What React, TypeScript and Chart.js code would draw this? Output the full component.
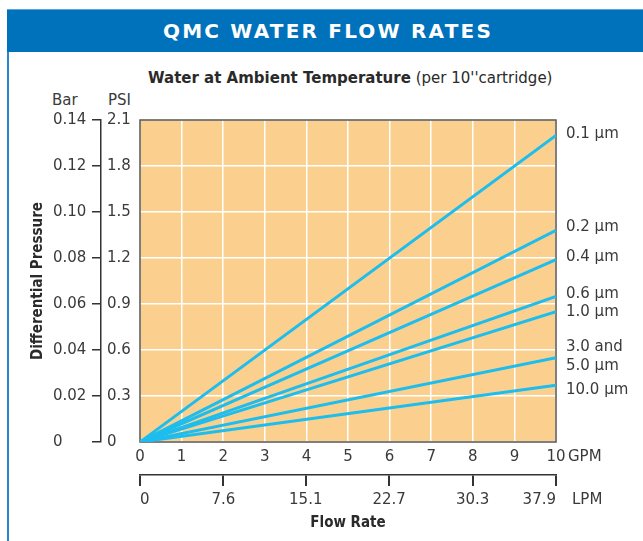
import React, { useEffect, useRef } from "react";
import { Chart, registerables } from "chart.js";

Chart.register(...registerables);

const FONT = "'DejaVu Sans', sans-serif";
const COND = "'DejaVu Sans Condensed', 'Liberation Sans Narrow', 'DejaVu Sans', sans-serif";
const TEXT = "#3a3a3a";
const LINE = "#1dbdee";
const PLOT_BG = "#fbd08f";
const BLUE = "#0071bb";

// Flow rate (GPM) at the two ends of every line
const flowGPM = [0, 10];

// Differential pressure (PSI) for each filter rating
const dp01 = [0, 2.0];
const dp02 = [0, 1.38];
const dp04 = [0, 1.19];
const dp06 = [0, 0.95];
const dp10 = [0, 0.85];
const dp35 = [0, 0.55];
const dp100 = [0, 0.37];

const seriesValues = [dp01, dp02, dp04, dp06, dp10, dp35, dp100];
const seriesLabels = [
  ["0.1 μm"],
  ["0.2 μm"],
  ["0.4 μm"],
  ["0.6 μm"],
  ["1.0 μm"],
  ["3.0 and", "5.0 μm"],
  ["10.0 μm"],
];
// small vertical nudges (px) of the end labels relative to their line ends
const labelNudge = [-1, -3, -2, -2, 0, -1, 5];

const gpmTicks = [0, 1, 2, 3, 4, 5, 6, 7, 8, 9, 10];
const lpmTicks = [0, 7.6, 15.1, 22.7, 30.3, 37.9];
const psiTicks = [0, 0.3, 0.6, 0.9, 1.2, 1.5, 1.8, 2.1];
const barTicks = [0, 0.02, 0.04, 0.06, 0.08, 0.1, 0.12, 0.14];

const decorPlugin = {
  id: "decor",
  beforeDraw(chart: any) {
    const { ctx, chartArea } = chart;
    const { left, top, right, bottom } = chartArea;
    ctx.save();
    ctx.fillStyle = PLOT_BG;
    ctx.fillRect(left, top, right - left, bottom - top);
    ctx.restore();
  },
  beforeDatasetsDraw(chart: any) {
    const { ctx, chartArea } = chart;
    const { left, top, right, bottom } = chartArea;
    ctx.save();
    ctx.strokeStyle = "#555555";
    ctx.lineWidth = 1.5;
    ctx.strokeRect(left, top, right - left, bottom - top);
    ctx.restore();
  },
  afterDatasetsDraw(chart: any) {
    const { ctx, chartArea } = chart;
    ctx.save();
    ctx.fillStyle = TEXT;
    ctx.font = `15px ${FONT}`;
    ctx.textAlign = "left";
    ctx.textBaseline = "middle";
    seriesLabels.forEach((lines, i) => {
      const meta = chart.getDatasetMeta(i);
      const pt = meta.data[meta.data.length - 1];
      const lh = 19;
      const y0 = pt.y + labelNudge[i] - ((lines.length - 1) * lh) / 2;
      lines.forEach((t, j) => ctx.fillText(t, chartArea.right + 10, y0 + j * lh));
    });
    // unit labels
    const xs = chart.scales.x;
    const x2 = chart.scales.x2;
    ctx.fillText("GPM", chartArea.right + 12, xs.top + 15);
    ctx.fillText("LPM", chartArea.right + 16, x2.top + 25);
    ctx.restore();
  },
};

export default function App() {
  const ref = useRef<HTMLCanvasElement | null>(null);

  useEffect(() => {
    if (!ref.current) return;
    const chart = new Chart(ref.current, {
      type: "line",
      data: {
        datasets: seriesValues.map((vals, i) => ({
          label: seriesLabels[i].join(" "),
          data: vals.map((v, k) => ({ x: flowGPM[k], y: v })),
          borderColor: LINE,
          backgroundColor: LINE,
          borderWidth: 3,
          pointRadius: 0,
          xAxisID: "x",
          yAxisID: "y",
          tension: 0,
        })),
      },
      options: {
        responsive: false,
        animation: false,
        events: [],
        layout: { padding: { left: 25, right: 87, top: 120, bottom: 5 } },
        plugins: {
          legend: { display: false },
          tooltip: { enabled: false },
          title: { display: false },
        },
        scales: {
          x: {
            type: "linear",
            position: "bottom",
            weight: 0,
            min: 0,
            max: 10,
            afterBuildTicks: (s: any) => {
              s.ticks = gpmTicks.map((v) => ({ value: v }));
            },
            afterFit: (s: any) => {
              s.height = 33;
            },
            ticks: {
              color: TEXT,
              font: { family: FONT, size: 15 },
              padding: 6,
              maxRotation: 0,
              autoSkip: false,
              callback: (v: any) => String(v),
            },
            grid: { color: "#ffffff", lineWidth: 1.5, drawTicks: false },
            border: { display: false },
          },
          x2: {
            type: "linear",
            position: "bottom",
            weight: 1,
            min: 0,
            max: 37.9,
            afterBuildTicks: (s: any) => {
              s.ticks = lpmTicks.map((v) => ({ value: v }));
            },
            afterFit: (s: any) => {
              s.height = 61;
            },
            ticks: {
              color: TEXT,
              font: { family: FONT, size: 15 },
              padding: 5,
              align: "inner",
              maxRotation: 0,
              autoSkip: false,
              callback: (v: any) => (v === 0 ? "0" : Number(v).toFixed(1)),
            },
            grid: {
              drawOnChartArea: false,
              drawTicks: true,
              tickLength: 11,
              color: "#333333",
              lineWidth: 2,
            },
            border: { display: true, color: "#333333", width: 1.5 },
            title: {
              display: true,
              text: "Flow Rate",
              color: "#2a2a2a",
              font: { family: COND, size: 15, weight: "bold" },
              padding: { top: 4, bottom: 4 },
            },
          },
          y: {
            type: "linear",
            position: "left",
            weight: 0,
            min: 0,
            max: 2.1,
            afterBuildTicks: (s: any) => {
              s.ticks = psiTicks.map((v) => ({ value: v }));
            },
            afterFit: (s: any) => {
              s.width = 33;
            },
            ticks: {
              color: TEXT,
              font: { family: FONT, size: 15 },
              crossAlign: "far",
              padding: 4,
              autoSkip: false,
              callback: (v: any) => (v === 0 ? "0" : Number(v).toFixed(1)),
            },
            grid: { color: "#ffffff", lineWidth: 1.5, drawTicks: false },
            border: { display: false },
          },
          gap: {
            type: "linear",
            position: "left",
            weight: 1,
            min: 0,
            max: 1,
            afterFit: (s: any) => {
              s.width = 6;
            },
            ticks: { display: false },
            grid: { display: false },
            border: { display: false },
          },
          yBar: {
            type: "linear",
            position: "left",
            weight: 2,
            min: 0,
            max: 0.14,
            afterBuildTicks: (s: any) => {
              s.ticks = barTicks.map((v) => ({ value: v }));
            },
            afterFit: (s: any) => {
              s.width = 48;
            },
            ticks: {
              color: TEXT,
              font: { family: FONT, size: 15 },
              crossAlign: "far",
              padding: 4,
              autoSkip: false,
              callback: (v: any) => (v === 0 ? "0" : Number(v).toFixed(2)),
            },
            grid: {
              drawOnChartArea: false,
              drawTicks: true,
              tickLength: 9,
              color: "#333333",
              lineWidth: 1.5,
            },
            border: { display: true, color: "#333333", width: 1.5 },
          },
          yTitle: {
            type: "linear",
            position: "left",
            weight: 3,
            min: 0,
            max: 1,
            afterFit: (s: any) => {
              s.width = 28;
            },
            ticks: { display: false },
            grid: { display: false },
            border: { display: false },
            title: {
              display: true,
              text: "Differential Pressure",
              color: "#2a2a2a",
              font: { family: COND, size: 15, weight: "bold" },
              padding: { top: 4, bottom: 4 },
            },
          },
        },
      } as any,
      plugins: [decorPlugin],
    });
    return () => chart.destroy();
  }, []);

  return (
    <div
      style={{
        position: "absolute",
        left: 0,
        top: 0,
        width: 643,
        height: 541,
        background: "#ffffff",
        fontFamily: FONT,
        overflow: "hidden",
      }}
    >
      <div
        style={{
          position: "absolute",
          left: 7,
          top: 9,
          width: 636,
          height: 43,
          background: BLUE,
          borderTop: "1px solid #5aa6dc",
          boxSizing: "border-box",
          color: "#ffffff",
          fontWeight: "bold",
          fontSize: 20,
          letterSpacing: 2.2,
          lineHeight: "42px",
          textAlign: "center",
          paddingLeft: 6,
        }}
      >
        QMC WATER FLOW RATES
      </div>
      <div
        style={{
          position: "absolute",
          left: 7,
          top: 52,
          width: 1.5,
          height: 489,
          background: "#2b86d0",
        }}
      />
      <div
        style={{
          position: "absolute",
          left: 148,
          top: 69,
          fontSize: 15,
          lineHeight: "18px",
          color: "#2a2a2a",
          whiteSpace: "nowrap",
        }}
      >
        <span style={{ fontWeight: "bold" }}>Water at Ambient Temperature</span>
        <span> (per 10''cartridge)</span>
      </div>
      <div
        style={{
          position: "absolute",
          left: 52,
          top: 91,
          fontSize: 15,
          lineHeight: "18px",
          color: TEXT,
        }}
      >
        Bar
      </div>
      <div
        style={{
          position: "absolute",
          left: 108,
          top: 91,
          fontSize: 15,
          lineHeight: "18px",
          color: TEXT,
        }}
      >
        PSI
      </div>
      <canvas
        ref={ref}
        width={643}
        height={541}
        style={{ position: "absolute", left: 0, top: 0, width: 643, height: 541 }}
      />
    </div>
  );
}
